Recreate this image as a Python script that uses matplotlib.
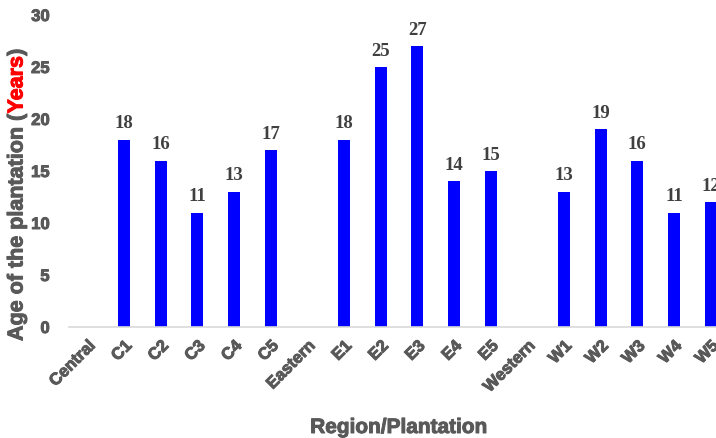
import matplotlib
matplotlib.use("Agg")
import matplotlib.pyplot as plt
import matplotlib.patheffects as pe

# plantation ages per region (region header rows carry no value)
categories = ["Central", "C1", "C2", "C3", "C4", "C5",
              "Eastern", "E1", "E2", "E3", "E4", "E5",
              "Western", "W1", "W2", "W3", "W4", "W5"]
ages = [None, 18, 16, 11, 13, 17,
        None, 18, 25, 27, 14, 15,
        None, 13, 19, 16, 11, 12]

grey = "#595959"
fig = plt.figure(figsize=(7.16, 4.39), dpi=100)
ax = fig.add_axes([69 / 716, 111 / 439, 660 / 716, 312 / 439])

xs = list(range(len(categories)))
for x, v in zip(xs, ages):
    if v is None:
        continue
    ax.bar(x, v, width=0.33, color="#0000FF")
    ax.text(x, v + 0.8, str(v), ha="center", va="bottom",
            fontsize=13.5, fontweight="bold", family="Liberation Serif", color="#404040")

ax.set_xlim(-0.5, len(categories) - 0.5)
ax.set_ylim(0, 30)
ax.set_yticks([0, 5, 10, 15, 20, 25, 30])
ax.set_xticks(xs)
ax.set_xticklabels(categories, rotation=45, ha="right", rotation_mode="anchor")

# slightly heavier strokes on the sans labels
def heavy(col):
    return [pe.withStroke(linewidth=0.7, foreground=col)]

for lab in ax.get_xticklabels() + ax.get_yticklabels():
    lab.set_family("Liberation Sans")
    lab.set_fontweight("bold")
    lab.set_color(grey)
    lab.set_fontsize(12)
    lab.set_path_effects(heavy(grey))
ax.tick_params(axis="both", length=0)
ax.tick_params(axis="y", pad=14)
ax.tick_params(axis="x", pad=8)
for s in ["top", "right", "left"]:
    ax.spines[s].set_visible(False)
ax.spines["bottom"].set_color("#d9d9d9")
ax.spines["bottom"].set_linewidth(1.2)

fig.text(399 / 716, 1 - 438 / 439, "Region/Plantation", ha="center", va="bottom",
         fontsize=15, fontweight="bold", family="Liberation Sans", color=grey,
         path_effects=heavy(grey))

# y label with the unit in red, built from rotated pieces
pieces = [("Age of the plantation (", grey), ("Years", "red"), (")", grey)]
fig.canvas.draw()
renderer = fig.canvas.get_renderer()
y = 342
for txt, col in pieces:
    t = fig.text(17 / 716, 1 - y / 439, txt, rotation=90,
                 ha="center", va="bottom", fontsize=15.5, fontweight="bold",
                 family="Liberation Sans", color=col, path_effects=heavy(col))
    bb = t.get_window_extent(renderer)
    y -= bb.height

fig.savefig("out.png", dpi=100)
